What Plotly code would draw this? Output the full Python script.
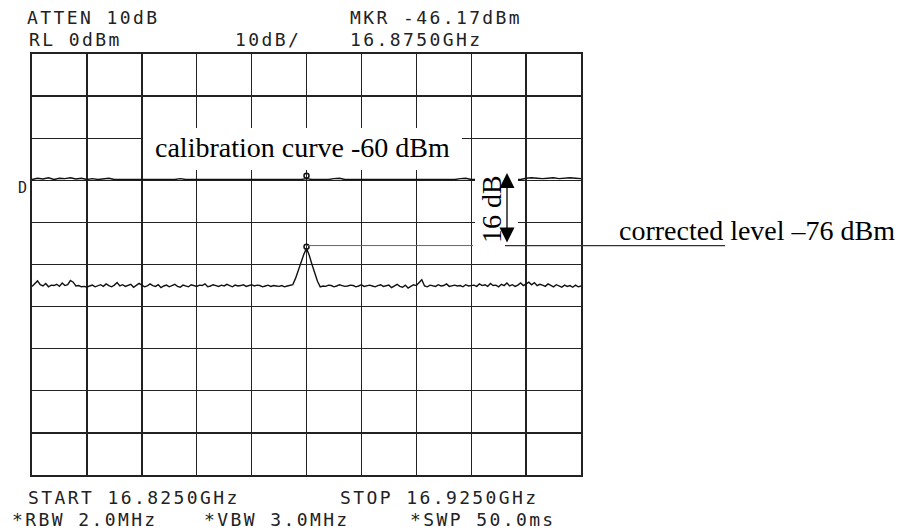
import numpy as np
import plotly.graph_objects as go

# ---------------- data ----------------
start_ghz = 16.825
stop_ghz = 16.925
ref_level = 0
db_per_div = 10

# measured trace (201 sweep points, 0.5 MHz spacing)
meas_dbm = [
    -55.2, -54.6, -53.9, -54.8, -55.1, -54.5, -55.3, -54.9, -55.0, -54.7,
    -55.2, -54.4, -55.0, -54.8, -53.8, -54.2, -55.1, -55.0, -55.3, -55.2,
    -55.4, -55.1, -54.9, -55.3, -55.0, -54.8, -55.2, -54.6, -55.0, -55.3,
    -54.9, -54.3, -55.1, -54.8, -55.2, -55.0, -54.7, -55.4, -55.0, -54.5,
    -54.9, -55.3, -55.1, -54.6, -55.0, -55.2, -54.8, -55.5, -55.1, -54.9,
    -55.3, -55.0, -54.7, -55.2, -55.4, -54.9, -55.1, -55.3, -54.8, -55.0,
    -55.2, -54.9, -55.0, -54.6, -55.3, -55.1, -54.8, -55.0, -55.2, -54.9,
    -55.1, -54.7, -55.0, -55.3, -54.9, -55.1, -55.0, -54.8, -55.2, -55.0,
    -54.8, -55.1, -54.9, -55.0, -55.3, -55.1, -54.9, -55.2, -55.0, -55.1,
    -55.2, -55.0, -55.3, -55.1, -55.0,
    -54.8, -53.3, -51.4, -49.4, -47.6, -46.17, -47.8, -50.0, -52.2, -54.0, -55.3,
    -55.1, -55.2, -54.9, -55.0, -55.3, -55.1, -54.8, -55.0, -55.2, -55.1,
    -54.9, -55.0, -55.3, -55.1, -54.8, -55.2, -55.0, -54.9, -55.1, -55.3,
    -55.0, -54.8, -55.2, -55.1, -54.9, -55.5, -55.0, -54.7, -55.2, -55.4,
    -54.9, -55.6, -55.2, -54.8, -55.0, -54.3, -53.6, -55.1, -55.3, -54.9,
    -55.0, -55.2, -54.8, -55.1, -55.0, -54.6, -55.2, -55.0, -54.9, -55.1,
    -55.0, -55.3, -54.8, -55.1, -55.0, -54.9, -55.2, -54.6, -55.0, -54.8,
    -55.2, -54.5, -55.0, -54.9, -55.3, -54.7, -55.0, -54.4, -55.1, -54.8,
    -55.2, -54.9, -54.4, -55.0, -54.6, -54.2, -54.8, -54.3, -55.0, -54.7,
    -54.9, -55.2, -54.6, -55.0, -55.3, -54.8, -55.1, -55.4, -54.9, -55.2,
    -55.0, -55.4, -54.9, -55.3, -55.1,
]

# calibration trace (101 sweep points, 1 MHz spacing)
calib_dbm = [
    -29.8, -29.5, -29.7, -29.4, -29.8, -29.5, -29.6, -29.4, -29.7, -29.5,
    -29.8, -29.6, -29.8, -29.7, -29.5, -29.8, -29.8, -29.7, -29.8, -29.8,
    -29.8, -29.7, -29.8, -29.8, -29.8, -29.7, -29.8, -29.6, -29.8, -29.8,
    -29.8, -29.8, -29.7, -29.8, -29.8, -29.8, -29.8, -29.8, -29.7, -29.8,
    -29.8, -29.8, -29.8, -29.8, -29.8, -29.8, -29.8, -29.7, -29.8, -29.8,
    -29.6, -29.8, -29.8, -29.8, -29.8, -29.6, -29.5, -29.8, -29.8, -29.8,
    -29.8, -29.8, -29.8, -29.8, -29.8, -29.8, -29.8, -29.7, -29.8, -29.8,
    -29.8, -29.8, -29.8, -29.8, -29.8, -29.8, -29.8, -29.8, -29.6, -29.5,
    -29.8, -29.8, -29.8, -29.8, -29.8, -29.8, -29.8, -29.8, -29.8, -29.8,
    -29.5, -29.4, -29.5, -29.6, -29.5, -29.4, -29.6, -29.5, -29.4, -29.5,
    -29.6,
]

marker_ghz = 16.875
marker_meas_dbm = -46.17
marker_calib_dbm = -28.9
corrected_level_dbm = -45.5

header_left = ["ATTEN 10dB", "RL 0dBm"]
header_scale = "10dB/"
header_marker = ["MKR -46.17dBm", "16.8750GHz"]
footer_lines = ["START 16.8250GHz", "STOP 16.9250GHz",
                "*RBW 2.0MHz", "*VBW 3.0MHz", "*SWP 50.0ms"]
label_calib = "calibration curve -60 dBm"
label_delta = "16 dB"
label_corrected = "corrected level \u201376 dBm"

# ---------------- figure ----------------
f_meas = np.linspace(start_ghz, stop_ghz, len(meas_dbm))
f_cal = np.linspace(start_ghz, stop_ghz, len(calib_dbm))

W, H = 903, 529
L, R, T, B = 32, 581, 54, 475


def px_x(px):
    return start_ghz + (px - L) / (R - L) * (stop_ghz - start_ghz)


def px_y(py):
    return ref_level - (py - T) / (B - T) * 10 * db_per_div


def paper_x(px):
    return (px - L) / (R - L)


def paper_y(py):
    return (B - py) / (B - T)


fig = go.Figure()
fig.add_trace(go.Scatter(x=f_cal, y=calib_dbm, mode="lines",
                         line=dict(color="#111", width=1.4), hoverinfo="skip"))
fig.add_trace(go.Scatter(x=f_meas, y=meas_dbm, mode="lines",
                         line=dict(color="#111", width=1.4), hoverinfo="skip"))
fig.add_trace(go.Scatter(x=[marker_ghz, marker_ghz], y=[marker_calib_dbm, marker_meas_dbm + 0.4],
                         mode="markers",
                         marker=dict(symbol="circle-open", size=5, color="#111",
                                     line=dict(width=1.5)),
                         hoverinfo="skip"))

mono = "DejaVu Sans Mono"
serif = "Liberation Serif"

ann = []


def txt(s, px, py, size=18, font=mono, xanchor="left", color="#222", spacing=None):
    if spacing is not None:
        s = '<span style="letter-spacing:%.1fpx">%s</span>' % (spacing, s)
    ann.append(dict(text=s, x=paper_x(px), y=paper_y(py), xref="paper", yref="paper",
                    xanchor=xanchor, yanchor="middle", showarrow=False,
                    font=dict(family=font, size=size, color=color)))


sp = 2.4
txt(header_left[0], 25, 18, spacing=sp)
txt(header_left[1], 27, 40, spacing=sp)
txt(header_scale, 233, 40, spacing=sp)
txt(header_marker[0], 348, 18, spacing=sp)
txt(header_marker[1], 348, 40, spacing=sp)
txt(footer_lines[0], 26, 497, spacing=sp)
txt(footer_lines[1], 338, 497, spacing=sp)
txt(footer_lines[2], 10, 519, spacing=sp)
txt(footer_lines[3], 202, 519, spacing=sp)
txt(footer_lines[4], 408, 519, spacing=sp)
txt("D", 16, 188, size=15)

txt(label_calib, 302, 147, size=28, font=serif, xanchor="center", color="#000")
txt(label_corrected, 617, 231, size=28, font=serif, color="#000")
ann.append(dict(text=label_delta, x=paper_x(491), y=paper_y(209), xref="paper", yref="paper",
                xanchor="center", yanchor="middle", showarrow=False, textangle=-90,
                font=dict(family=serif, size=28, color="#000")))
# double arrow
ann.append(dict(x=px_x(507), y=px_y(173), ax=px_x(507), ay=px_y(244),
                xref="x", yref="y", axref="x", ayref="y", text="",
                showarrow=True, arrowhead=2, startarrowhead=2, arrowside="end+start",
                arrowsize=2.3, startarrowsize=2.3, arrowwidth=1.3, arrowcolor="#000"))

shapes = [
    dict(type="rect", xref="x", yref="y", x0=px_x(143), x1=px_x(462),
         y0=px_y(128), y1=px_y(170), fillcolor="white", line=dict(width=0), layer="above"),
    dict(type="rect", xref="x", yref="y", x0=px_x(475), x1=px_x(518),
         y0=px_y(163), y1=px_y(249), fillcolor="white", line=dict(width=0), layer="above"),
    dict(type="line", xref="x", yref="y", x0=marker_ghz, x1=px_x(473),
         y0=corrected_level_dbm, y1=corrected_level_dbm,
         line=dict(color="#666", width=1), layer="above"),
    dict(type="line", xref="paper", yref="y", x0=paper_x(505), x1=paper_x(725),
         y0=corrected_level_dbm, y1=corrected_level_dbm,
         line=dict(color="#333", width=1.2), layer="above"),
]

fig.update_layout(
    width=W, height=H,
    margin=dict(l=L, r=W - R, t=T, b=H - B, pad=0),
    paper_bgcolor="white", plot_bgcolor="white",
    showlegend=False,
    annotations=ann, shapes=shapes,
    xaxis=dict(range=[start_ghz, stop_ghz], dtick=0.01, tick0=start_ghz,
               showgrid=True, gridcolor="#222", gridwidth=1.4,
               showline=True, linecolor="#222", linewidth=1.6, mirror=True,
               showticklabels=False, ticks="", zeroline=False, fixedrange=True),
    yaxis=dict(range=[ref_level - 10 * db_per_div, ref_level], dtick=db_per_div,
               showgrid=True, gridcolor="#222", gridwidth=1.4,
               showline=True, linecolor="#222", linewidth=1.6, mirror=True,
               showticklabels=False, ticks="", zeroline=False, fixedrange=True),
)

fig.write_html("out.html", config={"displayModeBar": False, "staticPlot": True},
               post_script="document.body.style.margin='0';"
                           "document.body.style.overflow='hidden';")
